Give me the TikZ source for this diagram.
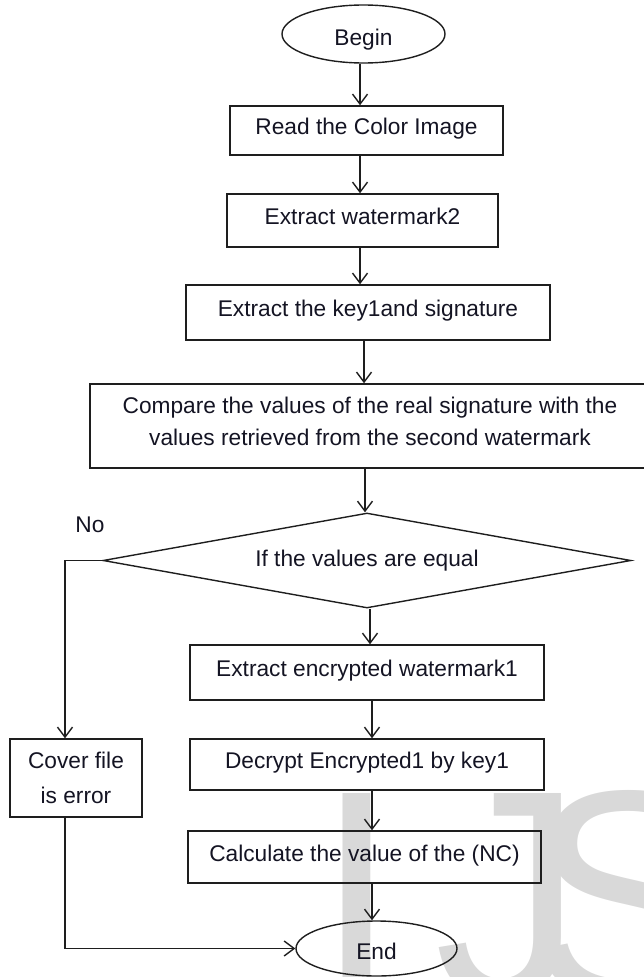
\documentclass[tikz,border=0pt]{standalone}
\usepackage{fontspec}
\setmainfont{Liberation Sans}
\usetikzlibrary{shapes.geometric,arrows.meta}
\definecolor{inkline}{RGB}{30,30,30}
\definecolor{inktext}{RGB}{20,20,35}
\definecolor{wmgray}{RGB}{217,217,217}

\begin{document}
\begin{tikzpicture}[x=1pt,y=-1pt,
  every node/.style={font=\fontsize{22.7}{32}\selectfont, text=inktext},
  flowbox/.style={draw=inkline, line width=1.5pt, rectangle, inner sep=0pt},
  oneline/.style={text height=17pt, text depth=8.8pt},
  terminal/.style={draw=inkline, line width=1.4pt, ellipse, inner sep=0pt,
                   text height=22pt, text depth=0pt},
  decision/.style={draw=inkline, line width=1.4pt, diamond, aspect=5.558,
                   inner sep=0pt, text height=17pt, text depth=4.8pt},
  flow/.style={draw=inkline, line width=1.4pt,
               -{Straight Barb[length=10pt,width=15pt]}},
  bigletter/.style={anchor=base west, inner sep=0pt, text=wmgray,
                    font=\fontsize{298}{298}\selectfont},
]
\clip (0,0) rectangle (644,977);

% large grey letters behind the chart
\node[bigletter] (wmI) at (315,998) {I};
\node[bigletter] (wmJ) at (434,998) {J};
\node[bigletter] (wmS) at (527,998) {S};

% columns used by the vertical connectors
\coordinate (colA) at (360,0);
\coordinate (colB) at (364,0);
\coordinate (colC) at (365,0);
\coordinate (colD) at (370,0);
\coordinate (colE) at (372,0);
\coordinate (colL) at (65,0);

% main chain
\node[terminal, minimum width=163pt, minimum height=58pt] (begin) at (363.5,34) {Begin};
\node[flowbox, oneline, minimum width=273pt, minimum height=49pt] (read) at (366.5,130.5) {Read the Color Image};
\node[flowbox, oneline, minimum width=271pt, minimum height=53pt] (wm2) at (362.5,220.5) {Extract watermark2};
\node[flowbox, oneline, minimum width=364pt, minimum height=55pt] (key) at (368,312.5) {Extract the key1and signature};
\node[flowbox, align=center, minimum width=560pt, minimum height=84pt] (compare) at (370,426)
  {Compare the values of the real signature with the\\
   values retrieved from the second watermark\rule[-10pt]{0pt}{0pt}};
\node[decision, minimum width=528pt, minimum height=95pt] (test) at (367,560.5) {If the values are equal};
\node[flowbox, oneline, minimum width=354pt, minimum height=55pt] (encrypted) at (367,672.5) {Extract encrypted watermark1};
\node[flowbox, oneline, minimum width=354pt, minimum height=51pt] (decrypt) at (367,764.5) {Decrypt Encrypted1 by key1};
\node[flowbox, oneline, minimum width=353pt, minimum height=52pt] (calc) at (364.5,857) {Calculate the value of the (NC)};
\node[terminal, minimum width=161pt, minimum height=55pt] (end) at (376.5,948.5) {End};

% failure branch
\node[flowbox, align=center, minimum width=132pt, minimum height=78pt] (cover) at (76,778)
  {Cover file\\[3pt] is error};
\node (nolabel) at (90,525) {No};

% connectors
\draw[flow] (begin.south -| colA) -- (read.north -| colA);
\draw[flow] (read.south -| colA) -- (wm2.north -| colA);
\draw[flow] (wm2.south -| colA) -- (key.north -| colA);
\draw[flow] (key.south -| colB) -- (compare.north -| colB);
\draw[flow] (compare.south -| colC) -- (test.north -| colC);
\draw[flow] (test.south -| colD) -- (encrypted.north -| colD);
\draw[flow] (encrypted.south -| colE) -- (decrypt.north -| colE);
\draw[flow] (decrypt.south -| colE) -- (calc.north -| colE);
\draw[flow] (calc.south -| colE) -- (end.north -| colE);
\draw[flow] (test.west) -| (colL |- cover.north);
\draw[flow] (cover.south -| colL) |- (end.west);
\end{tikzpicture}
\end{document}
